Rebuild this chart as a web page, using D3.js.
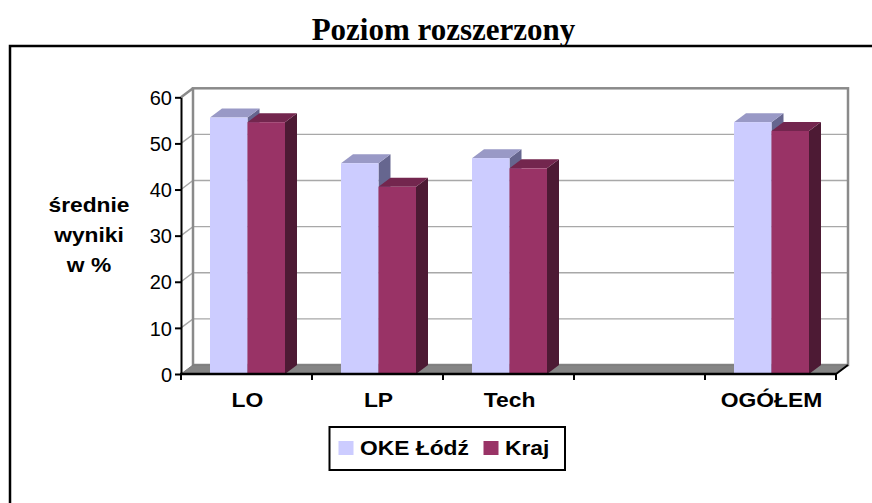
<!DOCTYPE html>
<html>
<head>
<meta charset="utf-8">
<script src="https://cdn.jsdelivr.net/npm/d3@7"></script>
<style>
  html, body { margin: 0; padding: 0; background: #fff; }
  svg { display: block; }
</style>
</head>
<body>
<svg id="chart" width="872" height="503"></svg>
<script>
// ---- data ----
const title = "Poziom rozszerzony";
const categories = ["LO", "LP", "Tech", "", "OGÓŁEM"];
const seriesNames = ["OKE Łódź", "Kraj"];
const okeValues = [55.6, 45.7, 46.8, null, 54.6];
const krajValues = [54.6, 40.6, 44.6, null, 52.7];
const yTicks = [0, 10, 20, 30, 40, 50, 60];
const yTitleLines = ["średnie", "wyniki", "w %"];

// ---- layout ----
const W = 872, H = 503;
const svg = d3.select("#chart");
const dx = 12, dy = 9;           // 3D depth offset
const plotLeft = 181, plotRight = 836, plotBottom = 374, plotTop = 97.3;
const groupW = 75;

const x = d3.scaleBand().domain(categories).range([plotLeft, plotRight]).padding(0);
const xs = d3.scaleBand().domain(seriesNames).range([0, groupW]).padding(0);
const y = d3.scaleLinear().domain([0, 60]).range([plotBottom, plotTop]);
const groupOff = (x.bandwidth() - groupW) / 2 + 1;

const colors = {
  "OKE Łódź": { front: "#CCCCFF", top: "#9999C6", side: "#66668F" },
  "Kraj":     { front: "#993366", top: "#73264E", side: "#4D1A34" }
};

const sans = "'Liberation Sans', Arial, sans-serif";

function stretchedText(g, tx, ty, str, opts) {
  const t = g.append("text")
    .attr("transform", `translate(${tx},${ty}) scale(${opts.sx || 1},1)`)
    .attr("font-family", opts.family || sans)
    .attr("font-size", opts.size)
    .attr("font-weight", opts.weight || "normal")
    .attr("text-anchor", opts.anchor || "start")
    .attr("fill", "#000")
    .text(str);
  return t;
}

// Title
svg.append("text")
  .attr("x", 443.5).attr("y", 40)
  .attr("text-anchor", "middle")
  .attr("font-family", "'Liberation Serif', 'Times New Roman', serif")
  .attr("font-weight", "bold")
  .attr("font-size", 31)
  .text(title);

// Outer frame
svg.append("rect")
  .attr("x", 10).attr("y", 46)
  .attr("width", 900).attr("height", 520)
  .attr("fill", "none").attr("stroke", "#000").attr("stroke-width", 2.5);

const g = svg.append("g");

// Gridlines (side wall diagonal + back wall)
const gridVals = yTicks.filter(v => v > 0 && v < 60);
g.selectAll("path.grid").data(gridVals).enter().append("path")
  .attr("class", "grid")
  .attr("d", v => `M${plotLeft},${y(v)} L${plotLeft + dx},${y(v) - dy} L${plotRight + dx},${y(v) - dy}`)
  .attr("fill", "none").attr("stroke", "#A8A8A8").attr("stroke-width", 1.4);

// Back wall border + side wall top edge
g.append("rect")
  .attr("x", plotLeft + dx).attr("y", y(60) - dy)
  .attr("width", plotRight - plotLeft).attr("height", y(0) - y(60))
  .attr("fill", "none").attr("stroke", "#8A8A8A").attr("stroke-width", 2.5);
g.append("line")
  .attr("x1", plotLeft).attr("y1", y(60))
  .attr("x2", plotLeft + dx).attr("y2", y(60) - dy)
  .attr("stroke", "#8A8A8A").attr("stroke-width", 2.5);

// Floor
g.append("path")
  .attr("d", `M${plotLeft},${y(0)} L${plotRight},${y(0)} L${plotRight + dx},${y(0) - dy} L${plotLeft + dx},${y(0) - dy} Z`)
  .attr("fill", "#858585").attr("stroke", "#7A7A7A").attr("stroke-width", 1);

// Bars
const seriesValues = { "OKE Łódź": okeValues, "Kraj": krajValues };
categories.forEach((cat, i) => {
  seriesNames.forEach(s => {
    const v = seriesValues[s][i];
    if (v == null) return;
    const xl = x(cat) + groupOff + xs(s);
    const xr = xl + xs.bandwidth();
    const yt = y(v), yb = y(0);
    const c = colors[s];
    const bg = g.append("g");
    bg.append("path")
      .attr("d", `M${xr},${yt} L${xr + dx},${yt - dy} L${xr + dx},${yb - dy} L${xr},${yb} Z`)
      .attr("fill", c.side);
    bg.append("path")
      .attr("d", `M${xl},${yt} L${xl + dx},${yt - dy} L${xr + dx},${yt - dy} L${xr},${yt} Z`)
      .attr("fill", c.top);
    bg.append("rect")
      .attr("x", xl).attr("y", yt)
      .attr("width", xr - xl).attr("height", yb - yt)
      .attr("fill", c.front);
  });
});

// Y axis
const yAxis = d3.axisLeft(y).tickValues(yTicks).tickSize(6).tickSizeOuter(0).tickPadding(3);
const yg = g.append("g").attr("transform", `translate(${plotLeft},0)`).call(yAxis);
yg.select(".domain").attr("stroke", "#000").attr("stroke-width", 2);
yg.selectAll(".tick line").attr("stroke", "#000").attr("stroke-width", 2);
yg.selectAll(".tick text")
  .attr("font-family", sans).attr("font-size", 20).attr("fill", "#000")
  .attr("dy", "0.36em");

// X axis line + boundary ticks + right floor edge
g.append("line")
  .attr("x1", plotLeft - 1).attr("y1", y(0)).attr("x2", plotRight).attr("y2", y(0))
  .attr("stroke", "#000").attr("stroke-width", 2.5);
const bounds = categories.map(c => x(c)).concat([plotRight]);
g.selectAll("line.xtick").data(bounds).enter().append("line")
  .attr("class", "xtick")
  .attr("x1", d => d).attr("x2", d => d)
  .attr("y1", y(0)).attr("y2", y(0) + 6)
  .attr("stroke", "#000").attr("stroke-width", 2);
g.append("line")
  .attr("x1", plotRight).attr("y1", y(0))
  .attr("x2", plotRight + dx).attr("y2", y(0) - dy)
  .attr("stroke", "#000").attr("stroke-width", 2);

// X labels
categories.forEach(c => {
  if (!c) return;
  stretchedText(svg, x(c) + x.bandwidth() / 2 + 1, 407, c,
    { size: 21, weight: "bold", anchor: "middle", sx: 1.09 });
});

// Y title
yTitleLines.forEach((ln, i) => {
  stretchedText(svg, 89, 212 + i * 30, ln,
    { size: 20, weight: "bold", anchor: "middle", sx: 1.14 });
});

// Legend
const lg = svg.append("g");
lg.append("rect")
  .attr("x", 329.5).attr("y", 427)
  .attr("width", 235.5).attr("height", 43)
  .attr("fill", "#fff").attr("stroke", "#000").attr("stroke-width", 2);
const legendPos = [{ sw: 338.5, tx: 360 }, { sw: 483.5, tx: 505 }];
seriesNames.forEach((s, i) => {
  lg.append("rect")
    .attr("x", legendPos[i].sw).attr("y", 441)
    .attr("width", 15).attr("height", 14)
    .attr("fill", colors[s].front);
  stretchedText(lg, legendPos[i].tx, 455, s,
    { size: 20, weight: "bold", anchor: "start", sx: 1.14 });
});
</script>
</body>
</html>
